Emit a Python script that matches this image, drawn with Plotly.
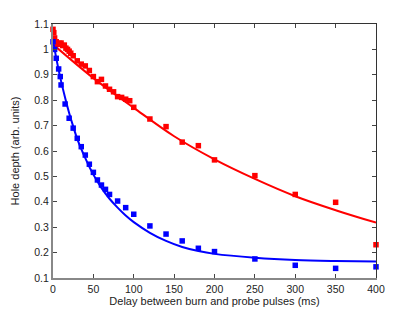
import plotly.graph_objects as go

# Measured data (delay in ms, hole depth in arb. units)
red_t = [0, 1, 2, 4, 6, 8, 10, 12, 14, 16, 18, 20, 22, 25, 30, 35, 40, 45, 50, 55, 60,
         65, 70, 75, 80, 85, 90, 95, 100, 120, 140, 160, 180, 200, 250, 300, 350, 400]
red_y = [1.079, 1.066, 1.045, 1.03, 1.02, 1.024, 1.025, 1.015, 1.017, 1.005, 1.0, 0.993,
         0.985, 0.975, 0.955, 0.942, 0.935, 0.917, 0.893, 0.873, 0.882, 0.856, 0.843,
         0.833, 0.814, 0.811, 0.804, 0.798, 0.772, 0.726, 0.696, 0.635, 0.621, 0.565,
         0.503, 0.429, 0.398, 0.231]

blue_t = [0, 2, 4, 7, 9, 10, 15, 20, 25, 30, 35, 40, 45, 50, 55, 60, 65, 70, 80, 90,
          100, 120, 140, 160, 180, 200, 250, 300, 350, 400]
blue_y = [1.03, 1.0, 0.965, 0.923, 0.893, 0.86, 0.785, 0.729, 0.69, 0.65, 0.617, 0.584,
          0.548, 0.516, 0.486, 0.466, 0.449, 0.429, 0.403, 0.377, 0.351, 0.305, 0.273,
          0.246, 0.217, 0.204, 0.175, 0.15, 0.138, 0.144]

# Fitted curves
red_fit_t = [0, 50, 100, 150, 200, 250, 300, 350, 400]
red_fit_y = [1.02, 0.887, 0.77, 0.658, 0.567, 0.49, 0.422, 0.367, 0.318]

blue_fit_t = [0, 5, 10, 15, 20, 25, 30, 40, 50, 60, 70, 80, 90, 100, 120, 140, 160,
              180, 200, 250, 300, 350, 400]
blue_fit_y = [1.035, 0.95, 0.875, 0.81, 0.75, 0.697, 0.648, 0.572, 0.507, 0.455, 0.412,
              0.377, 0.346, 0.32, 0.278, 0.246, 0.222, 0.206, 0.195, 0.18, 0.171, 0.167,
              0.165]

x_ticks = [0, 50, 100, 150, 200, 250, 300, 350, 400]
y_ticks = [0.1, 0.2, 0.3, 0.4, 0.5, 0.6, 0.7, 0.8, 0.9, 1.0, 1.1]
y_tick_labels = ["0.1", "0.2", "0.3", "0.4", "0.5", "0.6", "0.7", "0.8", "0.9", "1", "1.1"]

RED = "#ff0000"
BLUE = "#0000ff"

fig = go.Figure()
fig.add_trace(go.Scatter(x=red_fit_t, y=red_fit_y, mode="lines", line=dict(color=RED, width=2, shape="spline"),
                         showlegend=False, hoverinfo="skip"))
fig.add_trace(go.Scatter(x=blue_fit_t, y=blue_fit_y, mode="lines", line=dict(color=BLUE, width=2, shape="spline"),
                         showlegend=False, hoverinfo="skip"))
fig.add_trace(go.Scatter(x=red_t, y=red_y, mode="markers",
                         marker=dict(symbol="square", size=5.5, color=RED, line=dict(width=0)),
                         showlegend=False, cliponaxis=False))
fig.add_trace(go.Scatter(x=blue_t, y=blue_y, mode="markers",
                         marker=dict(symbol="square", size=5.5, color=BLUE, line=dict(width=0)),
                         showlegend=False, cliponaxis=False))

font = dict(family="Liberation Sans, Arial, sans-serif", size=10.5, color="#222")

fig.update_layout(
    width=415, height=312,
    margin=dict(l=53, r=39, t=24, b=34),
    paper_bgcolor="white", plot_bgcolor="white",
    font=font,
    xaxis=dict(range=[0, 400], tickvals=x_ticks, ticks="inside", ticklen=4, tickcolor="#444",
               showline=True, linecolor="#888", linewidth=2, showgrid=False, zeroline=False,
               automargin=False,
               title=dict(text="Delay between burn and probe pulses (ms)", standoff=1,
                          font=dict(size=11)),
               tickfont=dict(size=10.5)),
    yaxis=dict(range=[0.1, 1.1], tickvals=y_ticks, ticktext=y_tick_labels, ticks="inside",
               ticklen=4, tickcolor="#444", showline=True, linecolor="#888", linewidth=2,
               showgrid=False, zeroline=False, automargin=False,
               title=dict(text="Hole depth (arb. units)", standoff=12, font=dict(size=11)),
               tickfont=dict(size=10.5)),
    xaxis2=dict(range=[0, 400], tickvals=x_ticks, overlaying="x", side="top", ticks="inside",
                ticklen=4, tickcolor="#444", showline=True, linecolor="#333", linewidth=1,
                showticklabels=False, showgrid=False, zeroline=False, automargin=False),
    yaxis2=dict(range=[0.1, 1.1], tickvals=y_ticks, overlaying="y", side="right", ticks="inside",
                ticklen=4, tickcolor="#444", showline=True, linecolor="#333", linewidth=1,
                showticklabels=False, showgrid=False, zeroline=False, automargin=False),
)
fig.add_trace(go.Scatter(x=[None], y=[None], xaxis="x2", yaxis="y2", showlegend=False,
                         hoverinfo="skip"))

fig.write_html("out.html", config={"displayModeBar": False},
               post_script="document.body.style.margin='0';")
